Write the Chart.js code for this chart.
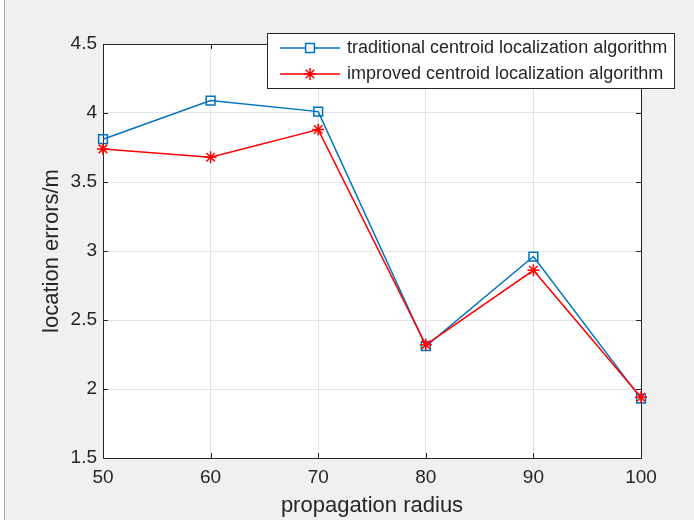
<!DOCTYPE html>
<html lang="en">
<head>
    <meta charset="UTF-8">
    <title>Location errors vs propagation radius</title>
    <script src="https://cdn.jsdelivr.net/npm/chart.js"></script>
    <style>
        html, body {
            margin: 0;
            padding: 0;
            background: #f0f0f0;
        }
        #chartBox {
            width: 694px;
            height: 520px;
        }
    </style>
</head>
<body>
    <div id="chartBox">
        <canvas id="myChart" width="694" height="520"></canvas>
    </div>
    <script>
        // values
        const radius = [50, 60, 70, 80, 90, 100];
        const traditional = [3.81, 4.09, 4.01, 2.31, 2.96, 1.93];
        const improved = [3.74, 3.68, 3.88, 2.32, 2.86, 1.94];
        const seriesNames = ['traditional centroid localization algorithm', 'improved centroid localization algorithm'];
        const xTicks = [50, 60, 70, 80, 90, 100];
        const yTicks = [1.5, 2, 2.5, 3, 3.5, 4, 4.5];

        const axisColor = '#262626';
        const fontFamily = '"Liberation Sans", Arial, sans-serif';

        function toPoints(xs, ys) {
            return xs.map((x, i) => ({ x: x, y: ys[i] }));
        }

        // figure background, white axes, box and inward ticks like matlab
        const matlabLook = {
            id: 'matlabLook',
            beforeDraw(chart) {
                const ctx = chart.ctx;
                const a = chart.chartArea;
                ctx.save();
                ctx.fillStyle = '#f0f0f0';
                ctx.fillRect(0, 0, chart.width, chart.height);
                ctx.fillStyle = '#ffffff';
                ctx.fillRect(0, 0, 4, chart.height);
                ctx.strokeStyle = '#9fb0ad';
                ctx.lineWidth = 1;
                ctx.beginPath();
                ctx.moveTo(4.5, 0);
                ctx.lineTo(4.5, chart.height);
                ctx.stroke();
                ctx.fillStyle = '#ffffff';
                ctx.fillRect(a.left, a.top, a.right - a.left, a.bottom - a.top);
                ctx.restore();
            },
            beforeDatasetsDraw(chart) {
                const ctx = chart.ctx;
                const a = chart.chartArea;
                const xs = chart.scales.x;
                const ys = chart.scales.y;
                const len = 5;
                ctx.save();
                ctx.strokeStyle = axisColor;
                ctx.lineWidth = 1;
                ctx.beginPath();
                xTicks.forEach(t => {
                    const px = Math.round(xs.getPixelForValue(t)) + 0.5;
                    ctx.moveTo(px, a.bottom);
                    ctx.lineTo(px, a.bottom - len);
                    ctx.moveTo(px, a.top);
                    ctx.lineTo(px, a.top + len);
                });
                yTicks.forEach(t => {
                    const py = Math.round(ys.getPixelForValue(t)) + 0.5;
                    ctx.moveTo(a.left, py);
                    ctx.lineTo(a.left + len, py);
                    ctx.moveTo(a.right, py);
                    ctx.lineTo(a.right - len, py);
                });
                ctx.stroke();
                ctx.strokeRect(Math.round(a.left) + 0.5, Math.round(a.top) + 0.5,
                    Math.round(a.right - a.left), Math.round(a.bottom - a.top));
                ctx.restore();
            },
            afterDraw(chart) {
                // legend box, sits partly above the axes like in the figure
                const ctx = chart.ctx;
                const box = { left: 267.5, top: 33.5, right: 674.5, bottom: 88.5 };
                ctx.save();
                ctx.fillStyle = '#ffffff';
                ctx.fillRect(box.left, box.top, box.right - box.left, box.bottom - box.top);
                ctx.strokeStyle = axisColor;
                ctx.lineWidth = 1;
                ctx.strokeRect(box.left, box.top, box.right - box.left, box.bottom - box.top);
                const rowsY = [48, 74];
                chart.data.datasets.forEach((ds, i) => {
                    const y = rowsY[i];
                    ctx.strokeStyle = ds.borderColor;
                    ctx.lineWidth = ds.borderWidth;
                    ctx.beginPath();
                    ctx.moveTo(280, y);
                    ctx.lineTo(340, y);
                    ctx.stroke();
                    Chart.helpers.drawPoint(ctx, {
                        pointStyle: ds.pointStyle,
                        radius: ds.pointRadius,
                        borderWidth: ds.pointBorderWidth,
                        rotation: 0
                    }, 310, y);
                    ctx.fillStyle = axisColor;
                    ctx.font = '18px ' + fontFamily;
                    ctx.textBaseline = 'middle';
                    ctx.textAlign = 'left';
                    ctx.fillText(ds.label, 347, y);
                });
                ctx.restore();
            }
        };

        const ctx = document.getElementById('myChart');
        const myChart = new Chart(ctx, {
            type: 'line',
            data: {
                datasets: [{
                    label: seriesNames[0],
                    data: toPoints(radius, traditional),
                    borderColor: '#0072bd',
                    borderWidth: 1.5,
                    pointStyle: 'rect',
                    pointRadius: 6.2,
                    pointBorderWidth: 1.5,
                    pointBorderColor: '#0072bd',
                    pointBackgroundColor: 'rgba(0,0,0,0)',
                    tension: 0,
                    clip: false,
                    order: 1
                }, {
                    label: seriesNames[1],
                    data: toPoints(radius, improved),
                    borderColor: '#ff0000',
                    borderWidth: 1.5,
                    pointStyle: 'star',
                    pointRadius: 6,
                    pointBorderWidth: 1.5,
                    pointBorderColor: '#ff0000',
                    pointBackgroundColor: 'rgba(0,0,0,0)',
                    tension: 0,
                    clip: false,
                    order: 0
                }]
            },
            options: {
                responsive: false,
                animation: false,
                layout: {
                    padding: { left: 0, top: 44, right: 53, bottom: 0 }
                },
                plugins: {
                    legend: { display: false },
                    tooltip: { enabled: false }
                },
                scales: {
                    x: {
                        type: 'linear',
                        min: 50,
                        max: 100,
                        afterBuildTicks: (scale) => {
                            scale.ticks = xTicks.map(v => ({ value: v }));
                        },
                        afterFit: (scale) => { scale.height = 62; },
                        grid: { color: '#e3e3e3', drawTicks: false },
                        border: { display: false },
                        ticks: {
                            color: axisColor,
                            padding: 8,
                            maxRotation: 0,
                            font: { family: fontFamily, size: 19 }
                        },
                        title: {
                            display: true,
                            text: 'propagation radius',
                            color: axisColor,
                            padding: { top: 0, bottom: 1 },
                            font: { family: fontFamily, size: 22 }
                        }
                    },
                    y: {
                        type: 'linear',
                        min: 1.5,
                        max: 4.5,
                        afterBuildTicks: (scale) => {
                            scale.ticks = yTicks.map(v => ({ value: v }));
                        },
                        afterFit: (scale) => { scale.width = 103; },
                        grid: { color: '#e3e3e3', drawTicks: false },
                        border: { display: false },
                        ticks: {
                            color: axisColor,
                            padding: 6,
                            font: { family: fontFamily, size: 19 },
                            callback: (v) => String(v)
                        },
                        title: {
                            display: true,
                            text: 'location errors/m',
                            color: axisColor,
                            padding: { top: 39, bottom: 0 },
                            font: { family: fontFamily, size: 22 }
                        }
                    }
                }
            },
            plugins: [matlabLook]
        });
    </script>
</body>
</html>
